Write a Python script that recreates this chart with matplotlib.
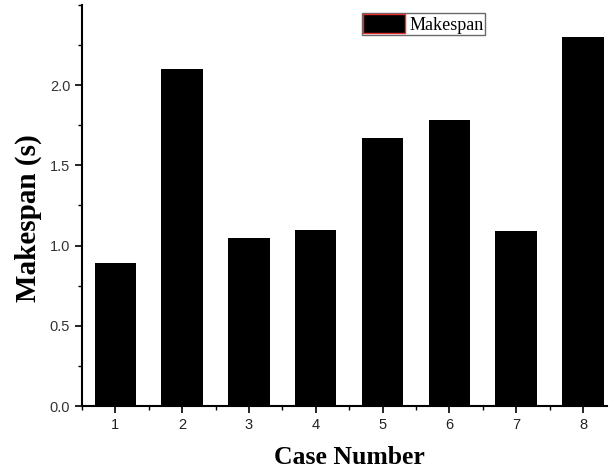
import matplotlib
matplotlib.use("Agg")
import matplotlib.pyplot as plt
from matplotlib.ticker import MultipleLocator

cases = [1, 2, 3, 4, 5, 6, 7, 8]
makespan = [0.89, 2.10, 1.05, 1.10, 1.67, 1.78, 1.09, 2.30]
yticks = [0.0, 0.5, 1.0, 1.5, 2.0]
ytick_labels = ["0.0", "0.5", "1.0", "1.5", "2.0"]

fig = plt.figure(figsize=(6.09, 4.73), dpi=100)
ax = fig.add_axes([82/609, 1 - 406/473, (607-82)/609, (406-5)/473])
ax.bar(cases, makespan, width=0.62, color="black", label="Makespan")
ax.set_xlim(0.5, 8.36)
ax.set_ylim(0, 2.5)
ax.set_xticks(cases)
ax.set_xticklabels([str(c) for c in cases], fontfamily="Liberation Sans", fontsize=10.5, color="#222222")
ax.set_yticks(yticks)
ax.set_yticklabels(ytick_labels, fontfamily="Liberation Sans", fontsize=10.5, color="#333333")
ax.xaxis.set_minor_locator(MultipleLocator(0.5))
ax.yaxis.set_minor_locator(MultipleLocator(0.25))
ax.tick_params(which="major", direction="out", length=5, width=1.2)
ax.tick_params(which="minor", direction="out", length=3, width=1.0)
for s in ["top", "right"]:
    ax.spines[s].set_visible(False)
for s in ["left", "bottom"]:
    ax.spines[s].set_linewidth(1.5)
ax.set_xlabel("Case Number", fontfamily="Liberation Serif", fontweight="bold", fontsize=18.5)
ax.set_ylabel("Makespan (s)", fontfamily="Liberation Serif", fontweight="bold", fontsize=21)
ax.xaxis.set_label_coords((349-82)/525, -(446-406)/401)
ax.yaxis.set_label_coords((42-82)/525, (406-218)/401)
leg = ax.legend(loc="upper left", bbox_to_anchor=((362-82)/525, (406-13)/401), frameon=True, fancybox=False,
                prop={"family": "Liberation Serif", "size": 13}, handlelength=2.3, handleheight=1.2,
                borderpad=0.08, handletextpad=0.25, borderaxespad=0)
leg.get_frame().set_edgecolor("#444444")
leg.get_frame().set_linewidth(1.0)
for p in leg.get_patches():
    p.set_edgecolor("#e03030")
    p.set_linewidth(1.0)
fig.savefig("out.png", dpi=100)
